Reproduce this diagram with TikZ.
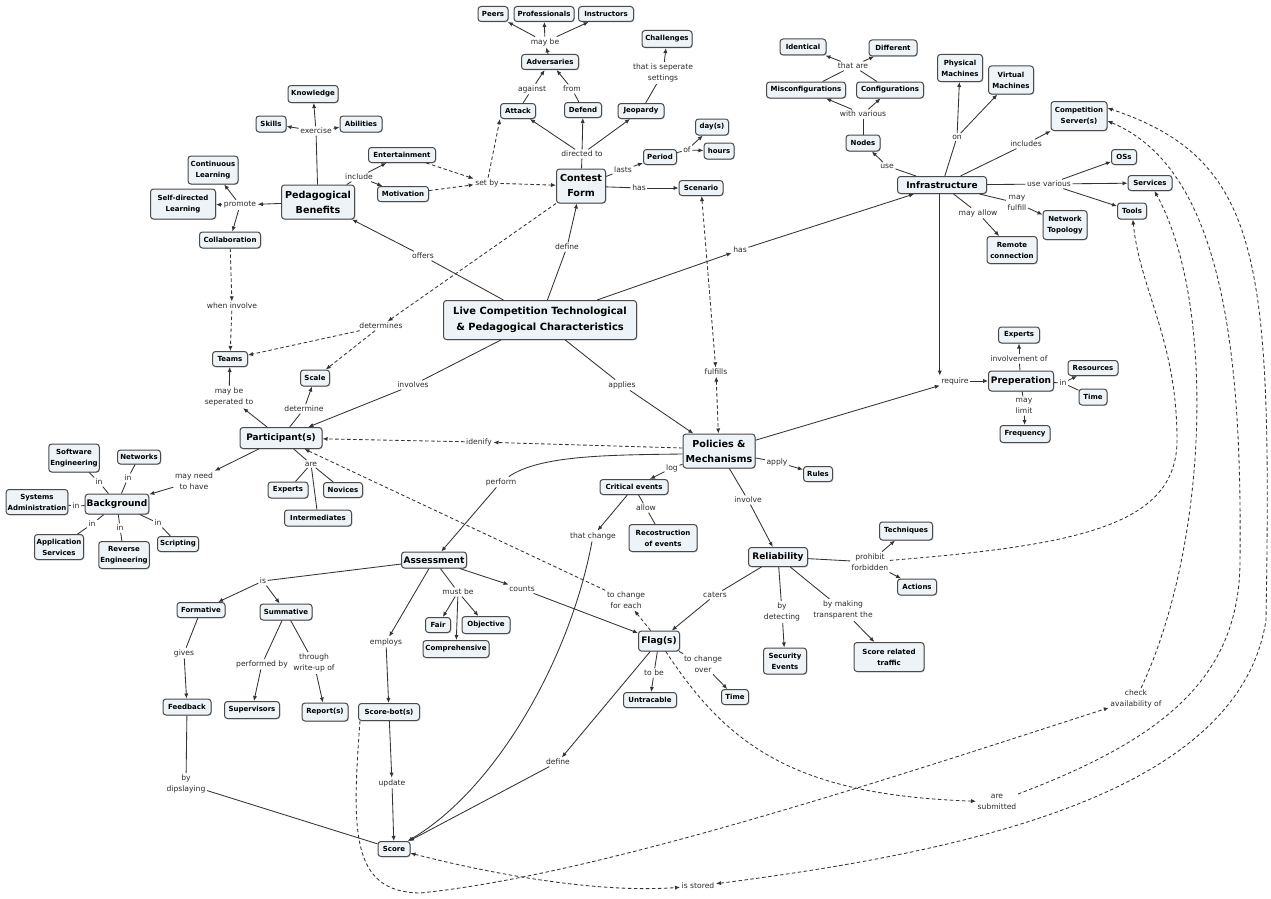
\documentclass[tikz,border=0pt]{standalone}
\usepackage{fontspec}
\setmainfont{DejaVu Sans}
\usetikzlibrary{arrows.meta,shadows}
\definecolor{boxfill}{HTML}{EDF3F6}
\definecolor{boxline}{HTML}{4A4A4A}
\definecolor{edge}{HTML}{333333}
\definecolor{lbltext}{HTML}{2A2A2A}
\newcommand\fCpt{\bfseries\fontsize{7.0}{11}\selectfont}
\newcommand\fBig{\bfseries\fontsize{9.0}{13}\selectfont}
\newcommand\fBigger{\bfseries\fontsize{9.6}{15}\selectfont}
\newcommand\fTop{\bfseries\fontsize{9.9}{16.5}\selectfont}
\newcommand\fLbl{\fontsize{7.6}{11.5}\selectfont}
\tikzset{
  cbox/.style={draw=boxline, fill=boxfill, rounded corners=3pt, line width=1pt,
    inner sep=1.5pt, align=center,
    drop shadow={shadow xshift=0.8pt, shadow yshift=-0.8pt, fill=black!40, opacity=0.5}},
  cpt/.style={cbox, font=\fCpt},
  big/.style={cbox, font=\fBig},
  bigger/.style={cbox, font=\fBigger},
  topc/.style={cbox, font=\fTop},
  lbl/.style={font=\fLbl, text=lbltext, inner sep=1.5pt, align=center},
  ln/.style={draw=edge, line width=0.85pt},
  tip/.tip={Latex[length=5pt,width=4.2pt]},
  ar/.style={ln, -tip},
  dln/.style={ln, dash pattern=on 3.5pt off 2.5pt},
  dar/.style={dln, -tip},
  dbar/.style={dln, tip-tip},
}
\begin{document}
\begin{tikzpicture}[x=1pt,y=-1pt]
\useasboundingbox[fill=white] (0,0) rectangle (1271,899);

% ---------- concepts ----------
\node[topc, minimum width=193, minimum height=39] (main) at (540,320) {Live Competition Technological\\\& Pedagogical Characteristics};

% pedagogical benefits branch
\node[bigger, minimum width=73, minimum height=34] (pb) at (318,202) {Pedagogical\\Benefits};
\node[cpt, minimum width=50, minimum height=17] (know) at (313,94) {Knowledge};
\node[cpt, minimum width=30, minimum height=16] (skills) at (271,124) {Skills};
\node[cpt, minimum width=42, minimum height=16] (abil) at (361,124) {Abilities};
\node[cpt, minimum width=50, minimum height=28] (contl) at (213,170) {Continuous\\Learning};
\node[cpt, minimum width=65, minimum height=30] (selfl) at (183,204) {Self-directed\\Learning};
\node[cpt, minimum width=61, minimum height=16] (collab) at (230,240) {Collaboration};
\node[cpt, minimum width=67, minimum height=15] (ent) at (402,155) {Entertainment};
\node[cpt, minimum width=51, minimum height=15] (mot) at (403,194) {Motivation};

% contest form branch
\node[bigger, minimum width=49, minimum height=34] (cf) at (581,186) {Contest\\Form};
\node[cpt, minimum width=35, minimum height=15] (attack) at (518,111) {Attack};
\node[cpt, minimum width=37, minimum height=15] (defend) at (583,110) {Defend};
\node[cpt, minimum width=46, minimum height=15] (jeop) at (641,111) {Jeopardy};
\node[cpt, minimum width=57, minimum height=15] (adv) at (550,62) {Adversaries};
\node[cpt, minimum width=30, minimum height=15] (peers) at (493,14) {Peers};
\node[cpt, minimum width=60, minimum height=15] (prof) at (544,14) {Professionals};
\node[cpt, minimum width=55, minimum height=15] (instr) at (606,14) {Instructors};
\node[cpt, minimum width=50, minimum height=17] (chall) at (667,39) {Challenges};
\node[cpt, minimum width=33, minimum height=16] (days) at (712,127) {day(s)};
\node[cpt, minimum width=30, minimum height=16] (hours) at (719,151) {hours};
\node[cpt, minimum width=33, minimum height=15] (period) at (660,157) {Period};
\node[cpt, minimum width=44, minimum height=15] (scen) at (701,188) {Scenario};

% infrastructure branch
\node[big, minimum width=89, minimum height=17] (infra) at (942,185) {Infrastructure};
\node[cpt, minimum width=46, minimum height=16] (ident) at (803,47) {Identical};
\node[cpt, minimum width=48, minimum height=16] (diff) at (893,48) {Different};
\node[cpt, minimum width=79, minimum height=16] (misc) at (806,90) {Misconfigurations};
\node[cpt, minimum width=67, minimum height=16] (conf) at (890,90) {Configurations};
\node[cpt, minimum width=34, minimum height=16] (nodesn) at (863,143) {Nodes};
\node[cpt, minimum width=45, minimum height=27] (phys) at (960,68) {Physical\\Machines};
\node[cpt, minimum width=45, minimum height=28] (virt) at (1011,80) {Virtual\\Machines};
\node[cpt, minimum width=56, minimum height=29] (comp) at (1079,116) {Competition\\Server(s)};
\node[cpt, minimum width=25, minimum height=15] (oss) at (1124,157) {OSs};
\node[cpt, minimum width=44, minimum height=15] (serv) at (1150,183) {Services};
\node[cpt, minimum width=29, minimum height=16] (tools) at (1132,211) {Tools};
\node[cpt, minimum width=44, minimum height=29] (nett) at (1065,225) {Network\\Topology};
\node[cpt, minimum width=50, minimum height=27] (remote) at (1012,250) {Remote\\connection};

% participants branch
\node[big, minimum width=82, minimum height=21] (part) at (281,438) {Participant(s)};
\node[cpt, minimum width=35, minimum height=15] (teams) at (230,359) {Teams};
\node[cpt, minimum width=29, minimum height=16] (scale) at (315,378) {Scale};
\node[cpt, minimum width=40, minimum height=16] (expa) at (288,490) {Experts};
\node[cpt, minimum width=39, minimum height=15] (nov) at (343,490) {Novices};
\node[cpt, minimum width=67, minimum height=16] (inter) at (318,518) {Intermediates};
\node[big, minimum width=63, minimum height=20] (bg) at (117,504) {Background};
\node[cpt, minimum width=48, minimum height=28] (swe) at (74,458) {Software\\Engineering};
\node[cpt, minimum width=43, minimum height=14] (netw) at (139,457) {Networks};
\node[cpt, minimum width=60, minimum height=25] (sysad) at (37,502) {Systems\\Administration};
\node[cpt, minimum width=49, minimum height=25] (apps) at (59,547) {Application\\Services};
\node[cpt, minimum width=49, minimum height=27] (rev) at (124,555) {Reverse\\Engineering};
\node[cpt, minimum width=41, minimum height=15] (script) at (178,544) {Scripting};

% policies branch
\node[bigger, minimum width=72, minimum height=34] (pol) at (719,451) {Policies \&\\Mechanisms};
\node[cpt, minimum width=29, minimum height=15] (rules) at (818,474) {Rules};
\node[cpt, minimum width=68, minimum height=15] (crit) at (634,487) {Critical events};
\node[cpt, minimum width=68, minimum height=27] (recon) at (663,538) {Recostruction\\of events};
\node[big, minimum width=59, minimum height=19] (rel) at (778,557) {Reliability};
\node[cpt, minimum width=53, minimum height=18] (tech) at (906,531) {Techniques};
\node[cpt, minimum width=39, minimum height=16] (actions) at (917,587) {Actions};
\node[cpt, minimum width=43, minimum height=26] (sec) at (785,661) {Security\\Events};
\node[cpt, minimum width=70, minimum height=29] (srt) at (889,657) {Score related\\traffic};

% preparation
\node[big, minimum width=65, minimum height=20] (prep) at (1021,381) {Preperation};
\node[cpt, minimum width=41, minimum height=16] (expb) at (1019,335) {Experts};
\node[cpt, minimum width=50, minimum height=15] (res) at (1093,368) {Resources};
\node[cpt, minimum width=28, minimum height=16] (timea) at (1093,397) {Time};
\node[cpt, minimum width=50, minimum height=17] (freq) at (1025,434) {Frequency};

% assessment branch
\node[big, minimum width=65, minimum height=16] (assess) at (434,560) {Assessment};
\node[cpt, minimum width=48, minimum height=15] (form) at (201,610) {Formative};
\node[cpt, minimum width=52, minimum height=16] (summ) at (286,612) {Summative};
\node[cpt, minimum width=48, minimum height=16] (feed) at (187,707) {Feedback};
\node[cpt, minimum width=55, minimum height=17] (sup) at (252,710) {Supervisors};
\node[cpt, minimum width=46, minimum height=18] (rep) at (325,712) {Report(s)};
\node[cpt, minimum width=25, minimum height=15] (fair) at (438,625) {Fair};
\node[cpt, minimum width=48, minimum height=17] (obj) at (486,625) {Objective};
\node[cpt, minimum width=66, minimum height=17] (compr) at (456,649) {Comprehensive};
\node[cpt, minimum width=61, minimum height=17] (sbot) at (389,712) {Score-bot(s)};
\node[cpt, minimum width=32, minimum height=15] (score) at (394,849) {Score};
\node[big, minimum width=41, minimum height=20] (flag) at (659,641) {Flag(s)};
\node[cpt, minimum width=53, minimum height=15] (untr) at (650,700) {Untracable};
\node[cpt, minimum width=27, minimum height=15] (timeb) at (735,697) {Time};

% ---------- linking phrases ----------
\node[lbl] (Lexercise) at (316,131) {exercise};
\node[lbl] (Lpromote) at (240,205) {promote};
\node[lbl] (Linclude) at (359,177) {include};
\node[lbl] (Lsetby) at (487,183) {set by};
\node[lbl] (Lagainst) at (532,89) {against};
\node[lbl] (Lfrom) at (572,89) {from};
\node[lbl] (Lmaybe) at (545,42) {may be};
\node[lbl] (Ldirected) at (582,154) {directed to};
\node[lbl] (Lsep) at (663,73) {that is seperate\\settings};
\node[lbl] (Llasts) at (623,170) {lasts};
\node[lbl] (Lof) at (687,150) {of};
\node[lbl] (LhasS) at (639,188) {has};
\node[lbl] (Loffers) at (423,256) {offers};
\node[lbl] (Ldefine) at (567,247) {define};
\node[lbl] (LhasI) at (740,250) {has};
\node[lbl] (Lthatare) at (853,66) {that are};
\node[lbl] (Lwithvar) at (863,114) {with various};
\node[lbl] (Luse) at (887,166) {use};
\node[lbl] (Lon) at (957,137) {on};
\node[lbl] (Lincludes) at (1026,144) {includes};
\node[lbl] (Lusevar) at (1049,184) {use various};
\node[lbl] (Lmayful) at (1017,203) {may\\fulfill};
\node[lbl] (Lmayallow) at (978,213) {may allow};
\node[lbl] (Lwheninv) at (232,306) {when involve};
\node[lbl] (Ldetermines) at (381,326) {determines};
\node[lbl] (Lsepd) at (229,397) {may be\\seperated to};
\node[lbl] (Ldetermine) at (304,409) {determine};
\node[lbl] (Linvolves) at (413,385) {involves};
\node[lbl] (Lapplies) at (622,385) {applies};
\node[lbl] (Lfulfills) at (716,372) {fulfills};
\node[lbl] (Lrequire) at (955,381) {require};
\node[lbl] (Lidenify) at (479,442) {idenify};
\node[lbl] (Lare) at (311,464) {are};
\node[lbl] (Lmayneed) at (194,481) {may need\\to have};
\node[lbl] (Lin1) at (99,482) {in};
\node[lbl] (Lin2) at (128,478) {in};
\node[lbl] (Lin3) at (76,506) {in};
\node[lbl] (Lin4) at (92,524) {in};
\node[lbl] (Lin5) at (120,528) {in};
\node[lbl] (Lin6) at (158,523) {in};
\node[lbl] (Lperform) at (501,482) {perform};
\node[lbl] (Llog) at (672,468) {log};
\node[lbl] (Lapply) at (777,462) {apply};
\node[lbl] (Linvolve) at (748,500) {involve};
\node[lbl] (Lthatchange) at (593,536) {that change};
\node[lbl] (Lallow) at (646,508) {allow};
\node[lbl] (Lis) at (263,581) {is};
\node[lbl] (Lmustbe) at (458,592) {must be};
\node[lbl] (Lcounts) at (522,589) {counts};
\node[lbl] (Ltcfe) at (626,600) {to change\\for each};
\node[lbl] (Lprohibit) at (870,562) {prohibit\\forbidden};
\node[lbl] (Lcaters) at (715,595) {caters};
\node[lbl] (Linvolof) at (1019,359) {involvement of};
\node[lbl] (Linp) at (1063,383) {in};
\node[lbl] (Lmaylimit) at (1024,406) {may\\limit};
\node[lbl] (Lgives) at (184,653) {gives};
\node[lbl] (Lperfby) at (262,664) {performed by};
\node[lbl] (Lthrough) at (314,663) {through\\write-up of};
\node[lbl] (Lemploys) at (386,642) {employs};
\node[lbl] (Ldipslay) at (186,784) {by\\dipslaying};
\node[lbl] (Lupdate) at (392,783) {update};
\node[lbl] (LdefineF) at (558,762) {define};
\node[lbl] (Ltobe) at (654,673) {to be};
\node[lbl] (Ltcover) at (703,664) {to change\\over};
\node[lbl] (Lbydet) at (782,612) {by\\detecting};
\node[lbl] (Lbymaking) at (843,610) {by making\\transparent the};
\node[lbl] (Lstored) at (698,886) {is stored};
\node[lbl] (Lcheck) at (1136,699) {check\\availability of};
\node[lbl] (Lsubmitted) at (997,802) {are\\submitted};

% ---------- plain connectors ----------
\foreach \a/\b in {main/Loffers, main/Ldefine, main/Linvolves, main/Lapplies,
  pb/Lexercise, pb/Linclude,
  cf/Ldirected, attack/Lagainst, defend/Lfrom, jeop/Lsep, cf/Llasts, period/Lof, cf/LhasS,
  infra/Luse, nodesn/Lwithvar, misc/Lthatare, conf/Lthatare, infra/Lon, infra/Lincludes,
  infra/Lusevar, infra/Lmayful, infra/Lmayallow,
  part/Ldetermine, part/Lare, Lare/expa, Lare/nov, Lare/inter,
  bg/Lin1, bg/Lin2, bg/Lin3, bg/Lin4, bg/Lin5, bg/Lin6,
  Lin1/swe, Lin2/netw, Lin3/sysad, Lin4/apps, Lin5/rev, Lin6/script,
  pol/Lapply, pol/Llog, pol/Linvolve, crit/Lallow, Lallow/recon,
  assess/Lis, assess/Lmustbe, form/Lgives, summ/Lperfby, summ/Lthrough,
  feed/Ldipslay, Ldipslay/score,
  flag/Ltobe, flag/Ltcover, rel/Lprohibit, rel/Lcaters, rel/Lbydet, rel/Lbymaking,
  prep/Linvolof, prep/Linp, Linp/timea, prep/Lmaylimit}
  \draw[ln] (\a) -- (\b);

% ---------- arrows ----------
\foreach \a/\b in {Loffers/pb, Ldefine/cf, main/LhasI, LhasI/infra, Linvolves/part, Lapplies/pol,
  Lexercise/know, Lexercise/skills, Lexercise/abil, pb/Lpromote, Lpromote/contl, Lpromote/selfl,
  Lpromote/collab, Linclude/ent, Linclude/mot,
  Ldirected/attack, Ldirected/defend, Ldirected/jeop, Lagainst/adv, Lfrom/adv, adv/Lmaybe,
  Lmaybe/peers, Lmaybe/prof, Lmaybe/instr, Lsep/chall, Llasts/period, Lof/days, Lof/hours, LhasS/scen,
  Luse/nodesn, Lwithvar/misc, Lwithvar/conf, Lthatare/ident, Lthatare/diff, Lon/phys, Lon/virt,
  Lincludes/comp, Lusevar/oss, Lusevar/serv, Lusevar/tools, Lmayful/nett, Lmayallow/remote,
  pol/Lrequire, Lrequire/prep,
  part/Lsepd, Lsepd/teams, Ldetermine/scale, part/Lmayneed, Lmayneed/bg,
  Lapply/rules, Llog/crit, Linvolve/rel, crit/Lthatchange, Lperform/assess,
  Lis/form, Lis/summ, Lmustbe/fair, Lmustbe/obj, Lmustbe/compr, assess/Lemploys, Lemploys/sbot,
  assess/Lcounts, Lcounts/flag, Lgives/feed, Lperfby/sup, Lthrough/rep,
  sbot/Lupdate, Lupdate/score, flag/LdefineF, LdefineF/score,
  Ltobe/untr, Ltcover/timeb, Lcaters/flag, Lbydet/sec, Lbymaking/srt, Lprohibit/tech, Lprohibit/actions,
  Linvolof/expb, Linp/res, Lmaylimit/freq}
  \draw[ar] (\a) -- (\b);

\draw[ar] (infra.south -| Lrequire.north west) -- (Lrequire.north west);
\draw[ln] ([yshift=-3pt]pol.west) .. controls (610,455) and (540,455) .. (Lperform);
\draw[ar] (Lthatchange) .. controls (570,660) and (495,790) .. (score);

% ---------- dashed cross links ----------
\foreach \a/\b in {ent/Lsetby, mot/Lsetby, Lsetby/cf, collab/Lwheninv, Lwheninv/teams,
  cf/Ldetermines, Ldetermines/teams, Ldetermines/scale, Lidenify/part, flag/Ltcfe, Ltcfe/part}
  \draw[dar] (\a) -- (\b);
\draw[dar] (Lsetby) -- (attack.south west);
\draw[dar] ([yshift=3pt]pol.west) -- (Lidenify);
\draw[dbar] (scen) -- (Lfulfills);
\draw[dbar] (Lfulfills) -- (pol);

\draw[dar] ([xshift=2pt]sbot.south west) .. controls (352,830) and (350,892) .. (420,893)
  .. controls (600,875) and (900,775) .. (Lcheck);
\draw[dar] (Lcheck) .. controls (1210,540) and (1215,300) .. (serv);
\draw[dar] (Lprohibit) .. controls (1080,545) and (1177,525) .. (1177,440)
  .. controls (1177,340) and (1140,290) .. (tools);
\draw[dar] (flag) .. controls (730,750) and (800,795) .. (Lsubmitted);
\draw[dar] (Lsubmitted) .. controls (1160,740) and (1240,680) .. (1240,560)
  .. controls (1242,360) and (1225,170) .. ([yshift=-5pt]comp.east);
\draw[dbar] (score) .. controls (500,876) and (600,893) .. (Lstored);
\draw[dbar] (Lstored) .. controls (980,850) and (1240,790) .. (1266,620)
  .. controls (1272,260) and (1262,160) .. ([yshift=8pt]comp.east);
\end{tikzpicture}
\end{document}
